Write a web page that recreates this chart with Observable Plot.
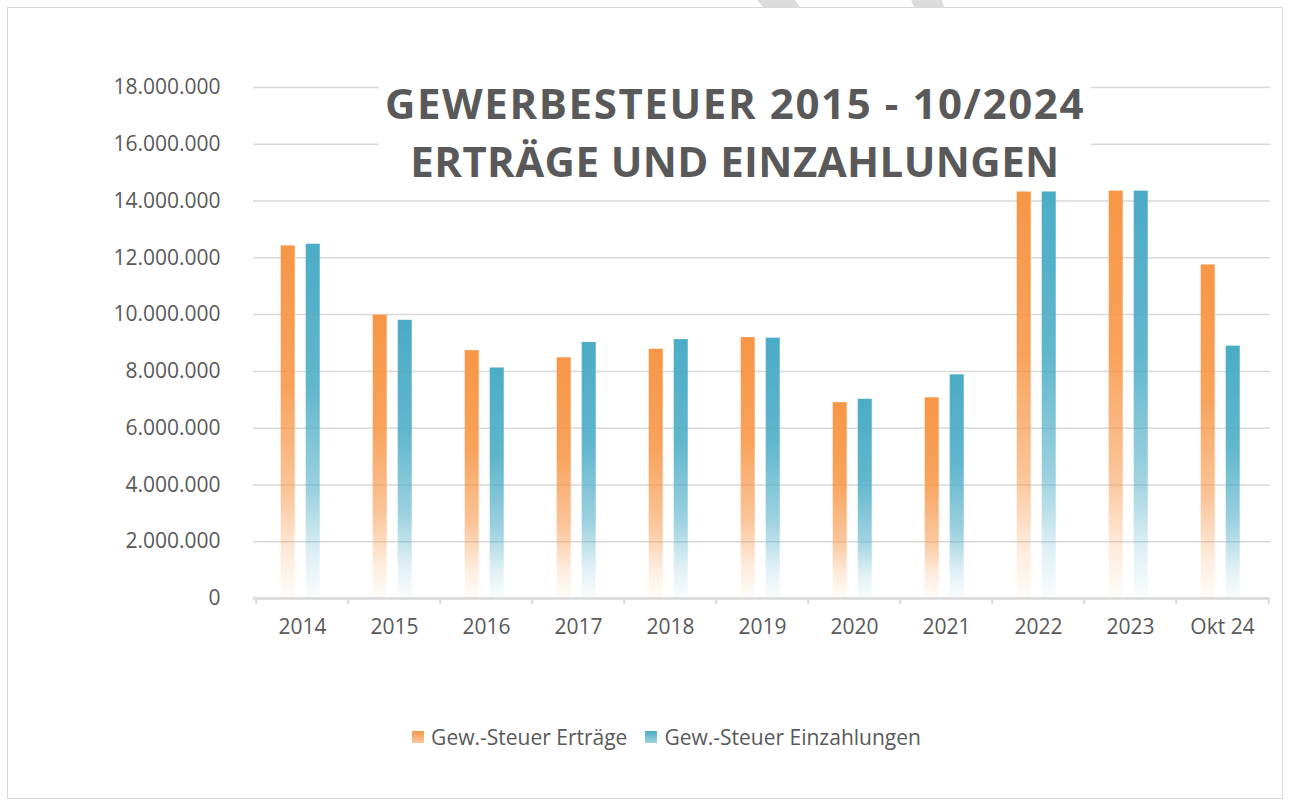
<!DOCTYPE html>
<html>
<head>
<meta charset="utf-8">
<script src="https://cdn.jsdelivr.net/npm/d3@7"></script>
<script src="https://cdn.jsdelivr.net/npm/@observablehq/plot@0.6"></script>
<style>
  html, body { margin: 0; padding: 0; background: #fff; }
  #wrap { position: relative; width: 1291px; height: 805px; overflow: hidden; font-family: "Open Sans", sans-serif; }
  #frame { position: absolute; left: 7px; top: 7px; width: 1276px; height: 792px; border: 1.5px solid #d9d9d9; box-sizing: border-box; }
  #chart { position: absolute; left: 0; top: 0; }
  #title { position: absolute; left: 379px; top: 74px; width: 712px; height: 114px; background: #fff;
           text-align: center; color: #595959; font-weight: 700; font-size: 42px; line-height: 58px; }
  #title .l1 { letter-spacing: 1.6px; }
  #title .l2 { letter-spacing: 0.4px; }
  #legend { position: absolute; left: 21px; width: 1291px; top: 721px; text-align: center; font-size: 21px; color: #595959; }
  #legend span.item { display: inline-flex; align-items: center; margin: 0 9px; }
  #legend span.sw { display: inline-block; width: 12px; height: 12px; margin-right: 7px; }
  #deco { position: absolute; left: 0; top: 0; }
</style>
</head>
<body>
<div id="wrap">
  <div id="frame"></div>
  <div id="chart"></div>
  <div id="title"><span class="l1">GEWERBESTEUER 2015 - 10/2024</span><br><span class="l2">ERTRÄGE UND EINZAHLUNGEN</span></div>
  <div id="legend"></div>
  <svg id="deco" width="1291" height="8"><polygon points="757,0 795,0 800,7 763,7" fill="#dcdcdc"/><polygon points="911,0 942,0 944,7 914,7" fill="#dcdcdc"/></svg>
</div>
<script>
const years = ["2014", "2015", "2016", "2017", "2018", "2019", "2020", "2021", "2022", "2023", "Okt 24"];
const ertraege = [12420000, 9980000, 8730000, 8480000, 8780000, 9190000, 6900000, 7070000, 14320000, 14350000, 11750000];
const einzahlungen = [12480000, 9800000, 8120000, 9020000, 9120000, 9170000, 7020000, 7880000, 14320000, 14350000, 8890000];
const yTicks = [0, 2000000, 4000000, 6000000, 8000000, 10000000, 12000000, 14000000, 16000000, 18000000];
const seriesNames = ["Gew.-Steuer Erträge", "Gew.-Steuer Einzahlungen"];
const seriesColors = ["#F79646", "#4BACC6"];

const de = d3.formatLocale({decimal: ",", thousands: ".", grouping: [3], currency: ["", " €"]});
const fmt = de.format(",d");

const dataE = years.map((y, i) => ({year: y, value: ertraege[i]}));
const dataZ = years.map((y, i) => ({year: y, value: einzahlungen[i]}));

const W = 1291, H = 805;
const mL = 253, mR = 21, mT = 87, mB = 207;
const bw = (W - mL - mR) / years.length;

const chart = Plot.plot({
  width: W,
  height: H,
  marginLeft: mL,
  marginRight: mR,
  marginTop: mT,
  marginBottom: mB,
  style: {fontFamily: "Open Sans, sans-serif", background: "transparent", overflow: "visible"},
  x: {domain: years, padding: 0, axis: null, label: null},
  y: {domain: [0, 18000000], axis: null, label: null},
  marks: [
    Plot.gridY(yTicks, {stroke: "#d9d9d9", strokeOpacity: 1, strokeWidth: 1.5}),
    Plot.barY(dataE, {x: "year", y: "value", fill: "url(#gradO)", insetLeft: 24.7, insetRight: bw - 24.7 - 14.5}),
    Plot.barY(dataZ, {x: "year", y: "value", fill: "url(#gradB)", insetLeft: 49.7, insetRight: bw - 49.7 - 14.5}),
    Plot.ruleY([0], {stroke: "#d9d9d9", strokeWidth: 2.5}),
    Plot.axisX(years, {tickSize: 6, text: null, label: null, dx: -bw / 2, stroke: "#d9d9d9", strokeWidth: 2, strokeOpacity: 1}),
    Plot.axisX([years[years.length - 1]], {tickSize: 6, text: null, label: null, dx: bw / 2, stroke: "#d9d9d9", strokeWidth: 2, strokeOpacity: 1}),
    Plot.axisX(years, {tickSize: 0, tickPadding: 21, fontSize: 21, fill: "#595959", label: null}),
    Plot.axisY(yTicks, {tickSize: 0, tickPadding: 33, fontSize: 21, fill: "#595959", tickFormat: fmt, label: null})
  ]
});

// gradients for bars
const ns = "http://www.w3.org/2000/svg";
const defs = document.createElementNS(ns, "defs");
function addGrad(id, color) {
  const g = document.createElementNS(ns, "linearGradient");
  g.setAttribute("id", id);
  g.setAttribute("x1", "0"); g.setAttribute("y1", "0");
  g.setAttribute("x2", "0"); g.setAttribute("y2", "1");
  const stops = [[0, 1], [0.4, 0.88], [0.7, 0.55], [0.88, 0.18], [1, 0.03]];
  for (const [o, a] of stops) {
    const s = document.createElementNS(ns, "stop");
    s.setAttribute("offset", o);
    s.setAttribute("stop-color", color);
    s.setAttribute("stop-opacity", a);
    g.appendChild(s);
  }
  defs.appendChild(g);
}
addGrad("gradO", seriesColors[0]);
addGrad("gradB", seriesColors[1]);
chart.insertBefore(defs, chart.firstChild);
document.getElementById("chart").appendChild(chart);

// legend
const leg = document.getElementById("legend");
seriesNames.forEach((n, i) => {
  const item = document.createElement("span");
  item.className = "item";
  const sw = document.createElement("span");
  sw.className = "sw";
  sw.style.background = `linear-gradient(${seriesColors[i]}, ${seriesColors[i]}88)`;
  item.appendChild(sw);
  item.appendChild(document.createTextNode(n));
  leg.appendChild(item);
});
</script>
</body>
</html>
